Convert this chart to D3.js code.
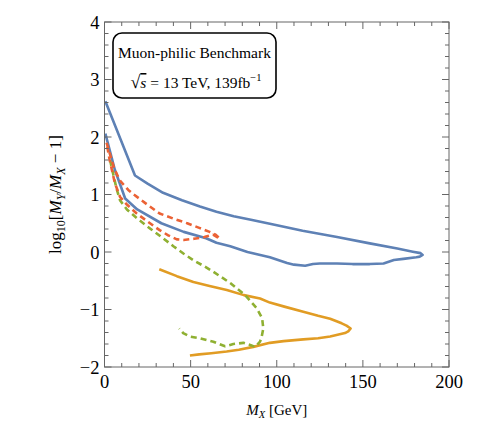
<!DOCTYPE html>
<html><head><meta charset="utf-8">
<script src="https://cdn.jsdelivr.net/npm/d3@7"></script>
<style>body{margin:0;background:#fff}svg{display:block}</style>
</head><body>
<svg id="c" width="478" height="438"></svg>
<script>
// ---- data ----
const xTicks = [0, 50, 100, 150, 200];
const yTicks = [-2, -1, 0, 1, 2, 3, 4];

const blueX = [0.5, 17.7, 25, 34, 45, 55.4, 65, 75, 85, 96, 115, 135, 154, 170, 179, 183.5, 184.7, 183, 181, 173.5, 168, 162, 154, 144, 135, 125, 121, 116.5, 110, 106, 96, 83, 73, 65, 59, 46, 33, 19, 12, 6, 0.5];
const blueY = [2.62, 1.33, 1.19, 1.03, 0.90, 0.79, 0.70, 0.62, 0.56, 0.49, 0.37, 0.26, 0.15, 0.06, 0.005, -0.02, -0.05, -0.08, -0.09, -0.12, -0.14, -0.20, -0.21, -0.21, -0.20, -0.20, -0.21, -0.24, -0.22, -0.19, -0.09, 0.0, 0.10, 0.16, 0.24, 0.35, 0.50, 0.74, 0.93, 1.43, 2.06];

const orangeX = [31.8, 42, 51.6, 61, 71, 80.9, 90.3, 96, 104.4, 115.4, 124, 131, 137.7, 140.5, 142.9, 141.5, 139.6, 131, 124, 115.4, 104, 96, 86.4, 78, 70.9, 62, 55, 49.6];
const orangeY = [-0.30, -0.42, -0.52, -0.59, -0.66, -0.75, -0.81, -0.88, -0.95, -1.04, -1.11, -1.16, -1.24, -1.28, -1.33, -1.38, -1.41, -1.47, -1.50, -1.52, -1.55, -1.58, -1.65, -1.70, -1.73, -1.76, -1.78, -1.80];

const greenX = [3.2, 4.5, 7, 9, 13, 18.7, 26.4, 34, 40, 46, 52, 58, 63, 73, 81.6, 88.4, 91.5, 92.2, 91.2, 90.3, 87.4, 85, 80.6, 74.8, 70, 63.2, 55.4, 49.6, 45.7, 43.4];
const greenY = [1.60, 1.43, 1.10, 0.90, 0.74, 0.59, 0.41, 0.24, 0.10, -0.03, -0.15, -0.25, -0.34, -0.54, -0.75, -0.98, -1.15, -1.33, -1.48, -1.56, -1.65, -1.62, -1.58, -1.60, -1.64, -1.56, -1.50, -1.47, -1.41, -1.33];

const redX = [1.2, 3, 5.5, 9, 13.8, 17, 25, 32, 40, 48, 55, 61, 64.5, 67, 63, 58, 52, 46, 42, 37, 32, 25, 18.7, 12.5, 9, 6, 3, 1.2];
const redY = [1.90, 1.72, 1.46, 1.24, 1.08, 1.00, 0.82, 0.67, 0.58, 0.50, 0.42, 0.35, 0.30, 0.23, 0.30, 0.26, 0.23, 0.21, 0.22, 0.29, 0.38, 0.53, 0.67, 0.84, 0.96, 1.2, 1.6, 1.90];

const series = [
  {x: blueX, y: blueY, color: "#5E81B5", dash: null},
  {x: orangeX, y: orangeY, color: "#E19C24", dash: null},
  {x: greenX, y: greenY, color: "#8FB032", dash: "6,4"},
  {x: redX, y: redY, color: "#EB6235", dash: "6,4"}
];

// ---- layout ----
const svg = d3.select("#c");
const L = 104.5, R = 449, T = 22, B = 367;
const x = d3.scaleLinear().domain([0, 200]).range([L, R]);
const y = d3.scaleLinear().domain([-2, 4]).range([B, T]);
const frameColor = "#666";
const font = "'Liberation Serif', 'DejaVu Serif', serif";

svg.append("defs").append("clipPath").attr("id", "pc")
  .append("rect").attr("x", L).attr("y", T).attr("width", R - L).attr("height", B - T);

// curves
const plot = svg.append("g").attr("clip-path", "url(#pc)");
series.forEach(s => {
  const pts = s.x.map((v, i) => [v, s.y[i]]);
  const line = d3.line().x(d => x(d[0])).y(d => y(d[1])).curve(d3.curveLinear);
  plot.append("path").attr("d", line(pts))
    .attr("fill", "none").attr("stroke", s.color).attr("stroke-width", 2.6)
    .attr("stroke-linejoin", "round")
    .attr("stroke-dasharray", s.dash);
});

// frame
svg.append("rect").attr("x", L).attr("y", T).attr("width", R - L).attr("height", B - T)
  .attr("fill", "none").attr("stroke", frameColor).attr("stroke-width", 1);

// ticks on all sides
const xMinor = d3.range(0, 201, 10);
const yMinor = d3.range(-2, 4.001, 0.2).map(v => Math.round(v * 10) / 10);
const tg = svg.append("g").attr("stroke", frameColor).attr("stroke-width", 1);
xMinor.forEach(v => {
  const major = v % 50 === 0;
  const len = major ? 7 : 4;
  tg.append("line").attr("x1", x(v)).attr("x2", x(v)).attr("y1", B).attr("y2", B - len);
  tg.append("line").attr("x1", x(v)).attr("x2", x(v)).attr("y1", T).attr("y2", T + len);
});
yMinor.forEach(v => {
  const major = Math.abs(v - Math.round(v)) < 1e-6;
  const len = major ? 7 : 4;
  tg.append("line").attr("y1", y(v)).attr("y2", y(v)).attr("x1", L).attr("x2", L + len);
  tg.append("line").attr("y1", y(v)).attr("y2", y(v)).attr("x1", R).attr("x2", R - len);
});

// tick labels
xTicks.forEach(v => {
  svg.append("text").attr("x", x(v)).attr("y", B + 21).attr("text-anchor", "middle")
    .attr("font-family", font).attr("font-size", 18.5).attr("fill", "#000").text(v);
});
yTicks.forEach(v => {
  svg.append("text").attr("x", L - 5).attr("y", y(v) + 6.5).attr("text-anchor", "end")
    .attr("font-family", font).attr("font-size", 18.5).attr("fill", "#000")
    .text(v < 0 ? "\u2212" + Math.abs(v) : v);
});

// x title
const xt = svg.append("text").attr("x", (L + R) / 2).attr("y", 415).attr("text-anchor", "middle")
  .attr("font-family", font).attr("font-size", 15).attr("fill", "#000");
xt.append("tspan").attr("font-style", "italic").text("M");
xt.append("tspan").attr("font-style", "italic").attr("font-size", 10.5).attr("dy", 3).text("X");
xt.append("tspan").attr("dy", -3).text(" [GeV]");

// y title
const yt = svg.append("text").attr("transform", `translate(61,${(T + B) / 2}) rotate(-90)`)
  .attr("text-anchor", "middle").attr("font-family", font).attr("font-size", 17).attr("fill", "#000");
yt.append("tspan").text("log");
yt.append("tspan").attr("font-size", 12).attr("dy", 3.5).text("10");
yt.append("tspan").attr("dy", -3.5).text("[");
yt.append("tspan").attr("font-style", "italic").text("M");
yt.append("tspan").attr("font-style", "italic").attr("font-size", 12).attr("dy", 3.5).text("Y");
yt.append("tspan").attr("dy", -3.5).text("/");
yt.append("tspan").attr("font-style", "italic").text("M");
yt.append("tspan").attr("font-style", "italic").attr("font-size", 12).attr("dy", 3.5).text("X");
yt.append("tspan").attr("dy", -3.5).text(" \u2212 1]");

// annotation box
svg.append("rect").attr("x", 113).attr("y", 33).attr("width", 163).attr("height", 65)
  .attr("rx", 9).attr("ry", 9).attr("fill", "#fff").attr("stroke", "#000").attr("stroke-width", 1.6);
svg.append("text").attr("x", 194.5).attr("y", 58).attr("text-anchor", "middle")
  .attr("font-family", font).attr("font-size", 15.5).attr("fill", "#000").text("Muon-philic Benchmark");
const t2 = svg.append("text").attr("x", 196).attr("y", 88).attr("text-anchor", "middle")
  .attr("font-family", font).attr("font-size", 15.5).attr("fill", "#000");
t2.append("tspan").attr("font-size", 18).text("\u221A");
t2.append("tspan").attr("font-style", "italic").attr("text-decoration", "overline").text("s");
t2.append("tspan").text(" = 13 TeV, 139fb");
t2.append("tspan").attr("font-size", 10.5).attr("dy", -7).text("\u22121");
</script>
</body></html>
